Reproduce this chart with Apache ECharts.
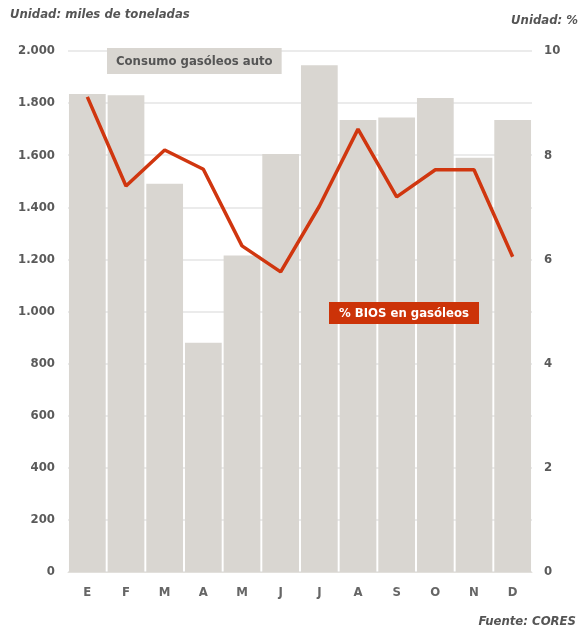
<!DOCTYPE html>
<html>
<head>
<meta charset="utf-8">
<script src="https://cdn.jsdelivr.net/npm/echarts@6/dist/echarts.min.js"></script>
<style>
body{margin:0;background:#fff;}
#main{width:582px;height:634px;}
</style>
</head>
<body>
<div id="main"></div>
<script>
// meses
var meses = ['E','F','M','A','M','J','J','A','S','O','N','D'];
// consumo gasóleos auto (miles de toneladas)
var consumo = [1835,1830,1490,880,1215,1605,1945,1735,1745,1820,1590,1735];
// % bios en gasóleos
var bios = [9.12,7.41,8.1,7.73,6.26,5.76,7.02,8.5,7.2,7.72,7.72,6.05];

var fuente = 'DejaVu Sans Condensed';

function fmtMiles(v){
    // 2000 -> 2.000
    var s = String(v);
    if(s.length > 3){
        s = s.slice(0, s.length-3) + '.' + s.slice(s.length-3);
    }
    return s;
}

var myChart = echarts.init(document.getElementById('main'));
var option = {
    backgroundColor: '#fff',
    animation: false,
    grid: {left: 68, right: 50, top: 51, bottom: 62},
    xAxis: {
        type: 'category',
        data: meses,
        axisLine: {show: true, lineStyle: {color: '#e2e0dc', width: 1}},
        axisTick: {show: false},
        axisLabel: {color: '#666', fontFamily: fuente, fontWeight: 'bold', fontSize: 13, margin: 14}
    },
    yAxis: [
        {
            type: 'value',
            min: 0, max: 2000, interval: 200,
            axisLine: {show: false},
            axisTick: {show: false},
            splitLine: {lineStyle: {color: '#e4e4e4', width: 1.5}},
            axisLabel: {color: '#5a5a5a', fontFamily: fuente, fontWeight: 'bold', fontSize: 13, margin: 13,
                formatter: fmtMiles}
        },
        {
            type: 'value',
            min: 0, max: 10, interval: 2,
            axisLine: {show: false},
            axisTick: {show: false},
            splitLine: {show: false},
            axisLabel: {color: '#5a5a5a', fontFamily: fuente, fontWeight: 'bold', fontSize: 13, margin: 12}
        }
    ],
    series: [
        {
            name: 'Consumo gasóleos auto',
            type: 'bar',
            data: consumo,
            barCategoryGap: '5%',
            itemStyle: {color: '#d9d6d1'},
            z: 2
        },
        {
            name: '% BIOS en gasóleos',
            type: 'line',
            yAxisIndex: 1,
            data: bios,
            symbol: 'none',
            lineStyle: {color: '#d0360f', width: 3.5},
            z: 3
        }
    ],
    graphic: [
        {type: 'text', left: 10, top: 8,
            style: {text: 'Unidad: miles de toneladas', fill: '#555', fontFamily: fuente,
                fontStyle: 'italic', fontWeight: 'bold', fontSize: 13}},
        {type: 'text', right: 4, top: 14,
            style: {text: 'Unidad: %', fill: '#555', fontFamily: fuente,
                fontStyle: 'italic', fontWeight: 'bold', fontSize: 13}},
        {type: 'text', right: 6, top: 615,
            style: {text: 'Fuente: CORES', fill: '#555', fontFamily: fuente,
                fontStyle: 'italic', fontWeight: 'bold', fontSize: 13}},
        {type: 'text', left: 107, top: 48, z: 10,
            style: {text: 'Consumo gasóleos auto', fill: '#555', fontFamily: fuente,
                fontWeight: 'bold', fontSize: 13, backgroundColor: '#d9d6d1',
                padding: [7, 9, 6, 9]}},
        {type: 'text', left: 329, top: 302, z: 10,
            style: {text: '% BIOS en gasóleos', fill: '#fff', fontFamily: fuente,
                fontWeight: 'bold', fontSize: 13, backgroundColor: '#cc3308',
                padding: [5, 10, 4, 10]}}
    ]
};
myChart.setOption(option);
</script>
</body>
</html>
